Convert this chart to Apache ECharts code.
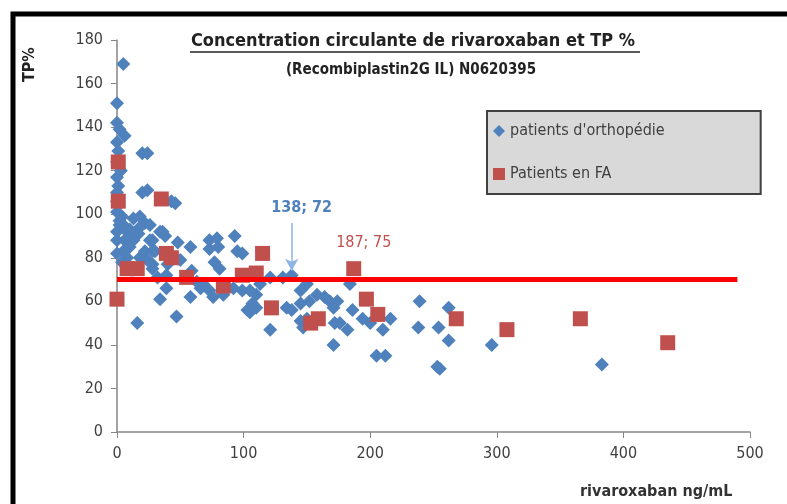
<!DOCTYPE html>
<html>
<head>
<meta charset="utf-8">
<script src="https://cdn.jsdelivr.net/npm/echarts@6/dist/echarts.min.js"></script>
<style>
  html, body { margin: 0; padding: 0; background: #fff; }
  #chart { width: 787px; height: 504px; }
</style>
</head>
<body>
<div id="chart"></div>
<script>
// patients d'orthopédie : [rivaroxaban ng/mL, TP %]
const orthoPoints = [
    [5, 169], [0, 151], [0, 142], [2, 139], [6, 136], [0, 133], [1, 129], [20, 128], [24, 128],
    [0, 124], [3, 120], [0, 117], [1, 113], [0, 110], [20, 110], [24, 111], [0, 106], [1, 104],
    [0, 101], [4, 99], [2, 97], [2, 95], [5, 95], [8, 92], [10, 93], [12, 90], [0, 92], [0, 88],
    [13, 88], [43, 106], [46, 105], [13, 98], [18, 99], [22, 96], [26, 95], [18, 94], [17, 91],
    [6, 88], [10, 85], [28, 88], [26, 88], [34, 92], [36, 92], [38, 90], [48, 87], [30, 83],
    [22, 83], [28, 83], [0, 82], [5, 83], [8, 80], [4, 78], [18, 80], [24, 79], [50, 79], [28, 77],
    [28, 75], [40, 77], [32, 71], [39, 72], [58, 85], [73, 84], [73, 88], [80, 85], [79, 89],
    [93, 90], [95, 83], [99, 82], [59, 74], [63, 69], [66, 66], [68, 68], [73, 65], [77, 78],
    [81, 75], [84, 63], [92, 66], [99, 65], [105, 65], [113, 68], [39, 66], [34, 61], [58, 62],
    [76, 62], [47, 53], [16, 50], [105, 55], [110, 57], [103, 56], [107, 59], [110, 63], [121, 71],
    [131, 71], [138, 72], [121, 47], [134, 57], [138, 56], [145, 65], [150, 68], [145, 59],
    [152, 60], [158, 63], [145, 51], [147, 48], [150, 52], [164, 62], [168, 60], [174, 60],
    [171, 57], [184, 68], [186, 56], [194, 52], [172, 50], [176, 50], [182, 47], [171, 40],
    [200, 50], [210, 47], [216, 52], [205, 35], [212, 35], [239, 60], [238, 48], [254, 48],
    [262, 57], [262, 42], [253, 30], [255, 29], [296, 40], [383, 31]
];
// Patients en FA
const faPoints = [
    [0, 61], [1, 124], [1, 106], [8, 75], [16, 75], [35, 107], [39, 82], [43, 80], [55, 71],
    [84, 67], [99, 72], [110, 73], [115, 82], [122, 57], [153, 50], [159, 52], [187, 75],
    [197, 61], [206, 54], [268, 52], [308, 47], [366, 52], [435, 41]
];
// seuil TP 70 %
const thresholdLine = [[0, 70], [490, 70]];
const orthoHighlight = [138, 72];
const faHighlight = [187, 75];

const xTicks = [0, 500, 100];
const yTicks = [0, 180, 20];

const blue = '#4f81bd';
const red = '#c0504d';
const font = "'Liberation Sans Narrow', 'DejaVu Sans Condensed', sans-serif";

const chart = echarts.init(document.getElementById('chart'));

const orthoData = orthoPoints.map(p => {
    if (p[0] === orthoHighlight[0] && p[1] === orthoHighlight[1]) {
        return {
            value: p,
            label: {
                show: true,
                formatter: p[0] + '; ' + p[1],
                position: 'top',
                offset: [10, -47],
                color: blue,
                fontWeight: 'bold',
                fontSize: 16,
                fontFamily: font,
            },
        };
    }
    return p;
});
const faData = faPoints.map(p => {
    if (p[0] === faHighlight[0] && p[1] === faHighlight[1]) {
        return {
            value: p,
            label: {
                show: true,
                formatter: p[0] + '; ' + p[1],
                position: 'top',
                offset: [10, -5],
                color: red,
                fontSize: 16,
                fontFamily: font,
            },
        };
    }
    return p;
});

chart.setOption({
    animation: false,
    backgroundColor: '#fff',
    grid: { left: 117, right: 37, top: 40, bottom: 72 },
    legend: {
        orient: 'vertical',
        left: 487,
        top: 111,
        backgroundColor: '#d9d9d9',
        borderColor: '#404040',
        borderWidth: 2,
        padding: [12, 96, 12, 6],
        itemGap: 27,
        itemWidth: 12,
        itemHeight: 12,
        textStyle: { fontSize: 16, color: '#404040', fontFamily: font },
        data: [
            { name: "patients d'orthopédie", icon: 'diamond' },
            { name: 'Patients en FA', icon: 'rect' },
        ],
    },
    xAxis: {
        type: 'value',
        min: xTicks[0],
        max: xTicks[1],
        interval: xTicks[2],
        splitLine: { show: false },
        axisLine: { lineStyle: { color: '#868686', width: 1.5 } },
        axisTick: { show: true, length: 6, lineStyle: { color: '#868686' } },
        axisLabel: { color: '#404040', fontSize: 16, fontFamily: font, margin: 14 },
    },
    yAxis: {
        type: 'value',
        min: yTicks[0],
        max: yTicks[1],
        interval: yTicks[2],
        splitLine: { show: false },
        axisLine: { show: true, lineStyle: { color: '#868686', width: 1.5 } },
        axisTick: { show: true, length: 6, lineStyle: { color: '#868686' } },
        axisLabel: { color: '#404040', fontSize: 16, fontFamily: font, margin: 14 },
    },
    series: [
        {
            name: "patients d'orthopédie",
            type: 'scatter',
            symbol: 'diamond',
            symbolSize: 14,
            itemStyle: { color: blue, opacity: 1 },
            data: orthoData,
            z: 2,
            markLine: {
                silent: true,
                symbol: ['none', 'arrow'],
                symbolSize: [10, 12],
                lineStyle: { color: '#8eb4e3', width: 1.5, type: 'solid' },
                label: { show: false },
                data: [[
                    { coord: [orthoHighlight[0], orthoHighlight[1] + 24] },
                    { coord: [orthoHighlight[0], orthoHighlight[1] + 2] },
                ]],
            },
        },
        {
            name: 'Patients en FA',
            type: 'scatter',
            symbol: 'rect',
            symbolSize: 15,
            itemStyle: { color: red, opacity: 1 },
            data: faData,
            z: 3,
        },
        {
            name: 'seuil',
            type: 'line',
            data: thresholdLine,
            symbol: 'none',
            lineStyle: { color: '#ff0000', width: 5 },
            z: 4,
        },
    ],
    graphic: [
        {
            type: 'rect',
            shape: { x: 13, y: 14, width: 800, height: 520 },
            style: { fill: 'none', stroke: '#000', lineWidth: 5 },
            silent: true,
        },
        {
            type: 'text',
            x: 413,
            y: 32,
            style: {
                text: 'Concentration circulante de rivaroxaban et TP %',
                font: 'bold 18px ' + font,
                fill: '#222',
                align: 'center',
            },
        },
        {
            type: 'line',
            shape: { x1: 190, y1: 52, x2: 640, y2: 52 },
            style: { stroke: '#222', lineWidth: 1.5 },
        },
        {
            type: 'text',
            x: 411,
            y: 63,
            style: {
                text: '(Recombiplastin2G IL) N0620395',
                font: 'bold 15px ' + font,
                fill: '#222',
                align: 'center',
            },
        },
        {
            type: 'text',
            rotation: Math.PI / 2,
            x: 22,
            y: 82,
            style: { text: 'TP%', font: 'bold 16px ' + font, fill: '#222' },
        },
        {
            type: 'text',
            x: 580,
            y: 484,
            style: { text: 'rivaroxaban ng/mL', font: 'bold 16px ' + font, fill: '#333' },
        },
    ],
});
</script>
</body>
</html>
